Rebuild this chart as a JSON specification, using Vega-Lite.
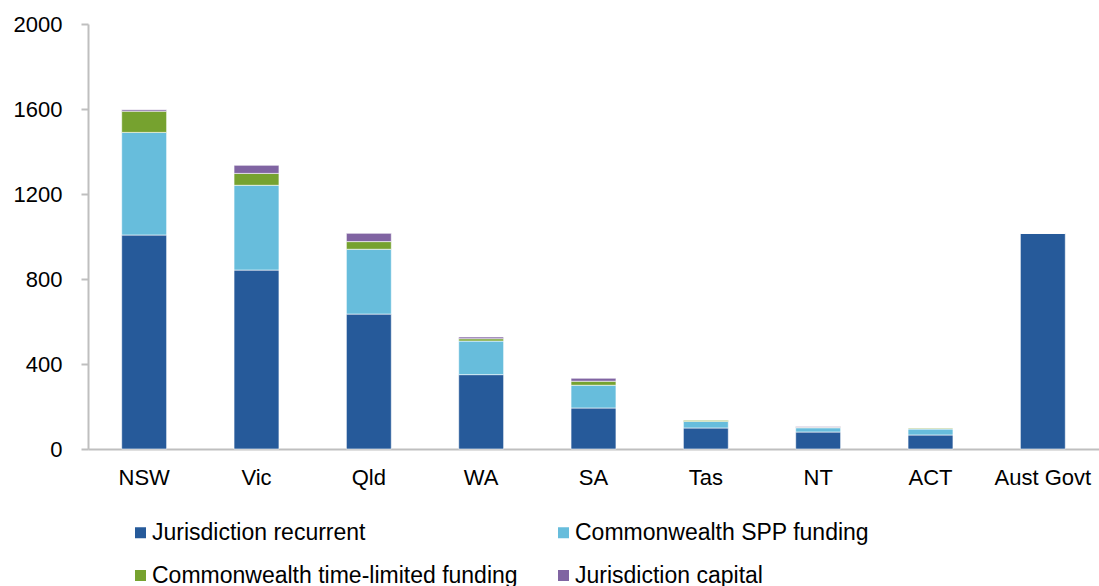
{
  "$schema": "https://vega.github.io/schema/vega-lite/v6.json",
  "autosize": "none",
  "width": 1011,
  "height": 425,
  "padding": {"left": 88, "top": 24, "right": 0, "bottom": 137},
  "background": "white",
  "config": {
    "view": {"stroke": null},
    "font": "Liberation Sans",
    "axis": {"labelFont": "Liberation Sans", "labelColor": "#000000", "labelFontSize": 22, "grid": false, "title": null, "domainColor": "#BFBFBF", "tickColor": "#BFBFBF"},
    "legend": {"labelFont": "Liberation Sans", "labelColor": "#000000"}
  },
  "data": {
    "values": [
      {"state": "NSW", "component": "Jurisdiction recurrent", "o": 1, "value": 1007},
      {"state": "NSW", "component": "Commonwealth SPP funding", "o": 2, "value": 483},
      {"state": "NSW", "component": "Commonwealth time-limited funding", "o": 3, "value": 100},
      {"state": "NSW", "component": "Jurisdiction capital", "o": 4, "value": 7},
      {"state": "Vic", "component": "Jurisdiction recurrent", "o": 1, "value": 842},
      {"state": "Vic", "component": "Commonwealth SPP funding", "o": 2, "value": 399},
      {"state": "Vic", "component": "Commonwealth time-limited funding", "o": 3, "value": 56},
      {"state": "Vic", "component": "Jurisdiction capital", "o": 4, "value": 38},
      {"state": "Qld", "component": "Jurisdiction recurrent", "o": 1, "value": 635},
      {"state": "Qld", "component": "Commonwealth SPP funding", "o": 2, "value": 305},
      {"state": "Qld", "component": "Commonwealth time-limited funding", "o": 3, "value": 36},
      {"state": "Qld", "component": "Jurisdiction capital", "o": 4, "value": 39},
      {"state": "WA", "component": "Jurisdiction recurrent", "o": 1, "value": 350},
      {"state": "WA", "component": "Commonwealth SPP funding", "o": 2, "value": 158},
      {"state": "WA", "component": "Commonwealth time-limited funding", "o": 3, "value": 11},
      {"state": "WA", "component": "Jurisdiction capital", "o": 4, "value": 8},
      {"state": "SA", "component": "Jurisdiction recurrent", "o": 1, "value": 193},
      {"state": "SA", "component": "Commonwealth SPP funding", "o": 2, "value": 107},
      {"state": "SA", "component": "Commonwealth time-limited funding", "o": 3, "value": 19},
      {"state": "SA", "component": "Jurisdiction capital", "o": 4, "value": 14},
      {"state": "Tas", "component": "Jurisdiction recurrent", "o": 1, "value": 99},
      {"state": "Tas", "component": "Commonwealth SPP funding", "o": 2, "value": 31},
      {"state": "Tas", "component": "Commonwealth time-limited funding", "o": 3, "value": 6},
      {"state": "Tas", "component": "Jurisdiction capital", "o": 4, "value": 1},
      {"state": "NT", "component": "Jurisdiction recurrent", "o": 1, "value": 80},
      {"state": "NT", "component": "Commonwealth SPP funding", "o": 2, "value": 20},
      {"state": "NT", "component": "Commonwealth time-limited funding", "o": 3, "value": 2},
      {"state": "NT", "component": "Jurisdiction capital", "o": 4, "value": 4},
      {"state": "ACT", "component": "Jurisdiction recurrent", "o": 1, "value": 66},
      {"state": "ACT", "component": "Commonwealth SPP funding", "o": 2, "value": 28},
      {"state": "ACT", "component": "Commonwealth time-limited funding", "o": 3, "value": 5},
      {"state": "ACT", "component": "Jurisdiction capital", "o": 4, "value": 0},
      {"state": "Aust Govt", "component": "Jurisdiction recurrent", "o": 1, "value": 1015},
      {"state": "Aust Govt", "component": "Commonwealth SPP funding", "o": 2, "value": 0},
      {"state": "Aust Govt", "component": "Commonwealth time-limited funding", "o": 3, "value": 0},
      {"state": "Aust Govt", "component": "Jurisdiction capital", "o": 4, "value": 0}
    ]
  },
  "mark": {"type": "bar", "stroke": "#ffffff", "strokeWidth": 0.75, "strokeOpacity": 0.8},
  "encoding": {
    "x": {
      "field": "state", "type": "nominal",
      "sort": ["NSW", "Vic", "Qld", "WA", "SA", "Tas", "NT", "ACT", "Aust Govt"],
      "scale": {"paddingInner": 0.6, "paddingOuter": 0.3},
      "axis": {"labelAngle": 0, "ticks": false, "domainWidth": 2, "labelPadding": 18}
    },
    "y": {
      "field": "value", "type": "quantitative", "stack": "zero",
      "scale": {"domain": [0, 2000], "nice": false},
      "axis": {"values": [0, 400, 800, 1200, 1600, 2000], "format": "d", "tickSize": 7, "tickWidth": 2, "domainWidth": 2, "labelPadding": 19}
    },
    "color": {
      "field": "component", "type": "nominal",
      "scale": {
        "domain": ["Jurisdiction recurrent", "Commonwealth SPP funding", "Commonwealth time-limited funding", "Jurisdiction capital"],
        "range": ["#265A9A", "#67BDDC", "#76A22F", "#8064A2"]
      },
      "legend": {
        "title": null, "orient": "none", "legendX": 41, "legendY": 497,
        "direction": "horizontal", "columns": 2, "columnPadding": 34, "rowPadding": 19,
        "symbolType": "square", "symbolSize": 121, "symbolStrokeWidth": 0,
        "labelFontSize": 23, "labelOffset": 0, "labelLimit": 600
      }
    },
    "order": {"field": "o", "type": "quantitative"}
  }
}
